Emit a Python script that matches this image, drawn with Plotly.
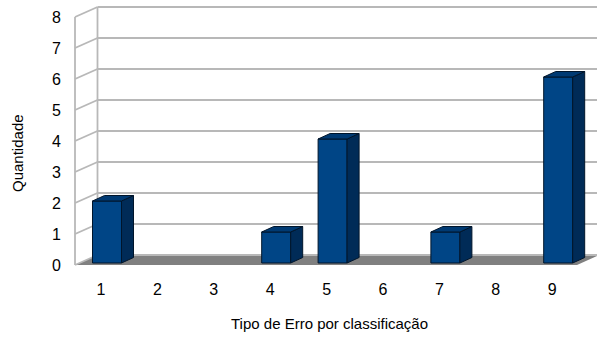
import plotly.graph_objects as go

# ---- data ----
categories = [1, 2, 3, 4, 5, 6, 7, 8, 9]
tick_labels = ["1", "2", "3", "4", "5", "6", "7", "8", "9"]
quantities = [2, 0, 0, 1, 4, 0, 1, 0, 6]
y_ticks = [0, 1, 2, 3, 4, 5, 6, 7, 8]
x_title = "Tipo de Erro por classificação"
y_title = "Quantidade"

# ---- geometry (pixel scale -> data units) ----
W, H = 597, 339
ML, MR, MT, MB = 70, 0, 0, 70
PX = 56.4   # px per category
PY = 31.0   # px per unit
plot_w = W - ML - MR
plot_h = H - MT - MB
x0_axis = 1 - (101 - ML) / PX
x1_axis = x0_axis + plot_w / PX
y_top = 265 / PY
y_bot = y_top - plot_h / PY

wall_dx = 22.5 / PX
wall_dy = 10 / PY
bar_off = -8.5 / PX
bar_w = 29 / PX
bar_base = 2 / PY
bar_dx = 12 / PX
bar_dy = 5.5 / PY

FRONT = "#004586"
SIDE = "#002b57"
TOP = "#003a73"
EDGE = "#00152b"
GRID = "#b8b8b8"

fig = go.Figure()
shapes = []

# front axis x position (slightly inside plot area)
xa = x0_axis + 5 / PX
ymax = max(y_ticks)

# floor
floor_right = xa + (577 - 75) / PX
shapes.append(dict(type="path", xref="x", yref="y", layer="below",
                   path=f"M{xa},0 L{floor_right},0 L{floor_right + wall_dx},{wall_dy} "
                        f"L{xa + wall_dx},{wall_dy} Z",
                   fillcolor="#808080", line=dict(width=0)))

# walls / gridlines
for v in y_ticks:
    shapes.append(dict(type="line", xref="x", yref="y", layer="below",
                       x0=xa, y0=v, x1=xa + wall_dx, y1=v + wall_dy,
                       line=dict(color=GRID, width=1.8)))
    shapes.append(dict(type="line", xref="x", yref="y", layer="below",
                       x0=xa + wall_dx, y0=v + wall_dy, x1=x1_axis + 1, y1=v + wall_dy,
                       line=dict(color=GRID, width=1.8)))
shapes.append(dict(type="line", xref="x", yref="y", layer="below",
                   x0=xa, y0=0, x1=xa, y1=ymax, line=dict(color=GRID, width=1.8)))
shapes.append(dict(type="line", xref="x", yref="y", layer="below",
                   x0=xa + wall_dx, y0=wall_dy, x1=xa + wall_dx, y1=ymax + wall_dy,
                   line=dict(color=GRID, width=1.8)))

# bar side and top faces
for c, v in zip(categories, quantities):
    if not v:
        continue
    bx0 = c + bar_off
    bx1 = bx0 + bar_w
    ytop = bar_base + v
    fig.add_trace(go.Scatter(
        x=[bx1, bx1 + bar_dx, bx1 + bar_dx, bx1, bx1],
        y=[bar_base, bar_base + bar_dy, ytop + bar_dy, ytop, bar_base],
        mode="lines", fill="toself", fillcolor=SIDE,
        line=dict(color=EDGE, width=1), hoverinfo="skip", showlegend=False))
    fig.add_trace(go.Scatter(
        x=[bx0, bx0 + bar_dx, bx1 + bar_dx, bx1, bx0],
        y=[ytop, ytop + bar_dy, ytop + bar_dy, ytop, ytop],
        mode="lines", fill="toself", fillcolor=TOP,
        line=dict(color=EDGE, width=1), hoverinfo="skip", showlegend=False))

# bar front faces
fig.add_trace(go.Bar(
    x=categories, y=[v if v else None for v in quantities],
    base=bar_base, width=bar_w, offset=bar_off,
    marker=dict(color=FRONT, line=dict(color=EDGE, width=1)),
    hoverinfo="skip", showlegend=False))

font = dict(family="Liberation Sans, Arial, sans-serif", color="#000000")

fig.update_layout(
    width=W, height=H,
    margin=dict(l=ML, r=MR, t=MT, b=MB, pad=0),
    paper_bgcolor="white", plot_bgcolor="white",
    shapes=shapes,
    showlegend=False,
    xaxis=dict(range=[x0_axis, x1_axis], tickvals=categories, ticktext=tick_labels,
               showgrid=False, zeroline=False, showline=False, ticks="",
               tickfont=dict(size=16, **font), ticklabelstandoff=9, fixedrange=True),
    yaxis=dict(range=[y_bot, y_top], tickvals=y_ticks, ticktext=[str(t) for t in y_ticks],
               showgrid=False, zeroline=False, showline=False, ticks="",
               tickfont=dict(size=16, **font), ticklabelstandoff=8, fixedrange=True),
    annotations=[
        dict(text=y_title, xref="paper", yref="paper",
             x=(18 - ML) / plot_w, y=(plot_h - 153) / plot_h,
             xanchor="center", yanchor="middle", textangle=-90, showarrow=False,
             font=dict(size=15, **font)),
        dict(text=x_title, xref="paper", yref="paper",
             x=(329 - ML) / plot_w, y=(plot_h - 323) / plot_h,
             xanchor="center", yanchor="middle", showarrow=False,
             font=dict(size=15, **font)),
    ],
)

fig.write_html("out.html")
